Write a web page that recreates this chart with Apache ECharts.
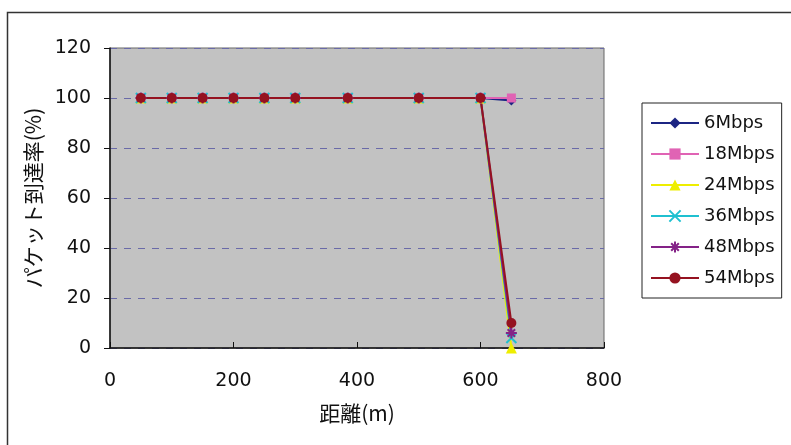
<!DOCTYPE html>
<html>
<head>
<meta charset="utf-8">
<script src="https://cdn.jsdelivr.net/npm/echarts@6/dist/echarts.min.js"></script>
<style>html,body{margin:0;padding:0;background:#fff;}#c{width:791px;height:445px;}</style>
</head>
<body>
<div id="c"></div>
<script>
var distances = [50, 100, 150, 200, 250, 300, 385, 500, 600, 650];
var s6Mbps  = [100, 100, 100, 100, 100, 100, 100, 100, 100, 99];
var s18Mbps = [100, 100, 100, 100, 100, 100, 100, 100, 100, 100];
var s24Mbps = [100, 100, 100, 100, 100, 100, 100, 100, 100, 0];
var s36Mbps = [100, 100, 100, 100, 100, 100, 100, 100, 100, 4];
var s48Mbps = [100, 100, 100, 100, 100, 100, 100, 100, 100, 6];
var s54Mbps = [100, 100, 100, 100, 100, 100, 100, 100, 100, 10];
var seriesNames = ['6Mbps', '18Mbps', '24Mbps', '36Mbps', '48Mbps', '54Mbps'];
var xTicks = [0, 200, 400, 600, 800];
var yTicks = [0, 20, 40, 60, 80, 100, 120];

function pairs(vals) {
  return distances.map(function (d, i) { return [d, vals[i]]; });
}
var allVals = [s6Mbps, s18Mbps, s24Mbps, s36Mbps, s48Mbps, s54Mbps];
var colors = ['#1c2583', '#e063b4', '#eeee00', '#1fc0d0', '#842287', '#951220'];
var symbols = [
  'diamond', 'rect', 'triangle',
  'path://M0,0L10,10M10,0L0,10',
  'path://M5,0L5,10M0,5L10,5M1.6,1.6L8.4,8.4M8.4,1.6L1.6,8.4',
  'circle'
];
var sizes = [10, 9, 11, 10, 11, 10];
var series = seriesNames.map(function (n, i) {
  var isPath = symbols[i].indexOf('path://') === 0;
  return {
    name: n,
    type: 'line',
    data: pairs(allVals[i]),
    symbol: symbols[i],
    symbolSize: sizes[i],
    showSymbol: true,
    animation: false,
    lineStyle: { color: colors[i], width: 2 },
    itemStyle: isPath ? { color: colors[i], borderColor: colors[i], borderWidth: 2 } : { color: colors[i] }
  };
});

var chart = echarts.init(document.getElementById('c'));
chart.setOption({
  animation: false,
  backgroundColor: '#fff',
  graphic: [{
    type: 'rect', z: 100, silent: true,
    shape: { x: 7.5, y: 12.5, width: 900, height: 600 },
    style: { fill: 'none', stroke: '#333', lineWidth: 1.5 }
  }],
  grid: {
    left: 110, right: 187, top: 48, bottom: 97,
    show: true, backgroundColor: '#c2c2c2', borderColor: '#666', borderWidth: 1
  },
  legend: {
    orient: 'vertical',
    left: 642, top: 103,
    padding: [11, 7, 11, 8],
    itemWidth: 48, itemHeight: 14, itemGap: 13,
    borderColor: '#222', borderWidth: 1,
    backgroundColor: '#fff',
    data: seriesNames,
    textStyle: { fontFamily: 'DejaVu Sans', fontSize: 18, color: '#111' }
  },
  xAxis: {
    type: 'value', min: 0, max: 800, interval: 200,
    name: '距離(m)', nameLocation: 'middle', nameGap: 55,
    nameTextStyle: { fontFamily: 'Noto Sans CJK JP', fontSize: 21, color: '#111' },
    axisLine: { show: true, lineStyle: { color: '#111', width: 1.5 } },
    axisTick: { show: true, inside: true, length: 6, lineStyle: { color: '#111' } },
    axisLabel: { margin: 24, fontFamily: 'DejaVu Sans', fontSize: 19, color: '#111',
      formatter: function (v) { return xTicks.indexOf(v) >= 0 ? String(v) : ''; } },
    splitLine: { show: false }
  },
  yAxis: {
    type: 'value', min: 0, max: 120, interval: 20,
    name: 'パケット到達率(%)', nameLocation: 'middle', nameGap: 65, nameRotate: 90,
    nameTextStyle: { fontFamily: 'Noto Sans CJK JP', fontSize: 21, color: '#111' },
    axisLine: { show: true, lineStyle: { color: '#111', width: 1.5 } },
    axisTick: { show: true, inside: false, length: 6, lineStyle: { color: '#111' } },
    axisLabel: { margin: 19, fontFamily: 'DejaVu Sans', fontSize: 19, color: '#111',
      formatter: function (v) { return yTicks.indexOf(v) >= 0 ? String(v) : ''; } },
    splitLine: { show: true, lineStyle: { color: '#6a6aa8', type: [7, 7], width: 1 } }
  },
  series: series
});
</script>
</body>
</html>
